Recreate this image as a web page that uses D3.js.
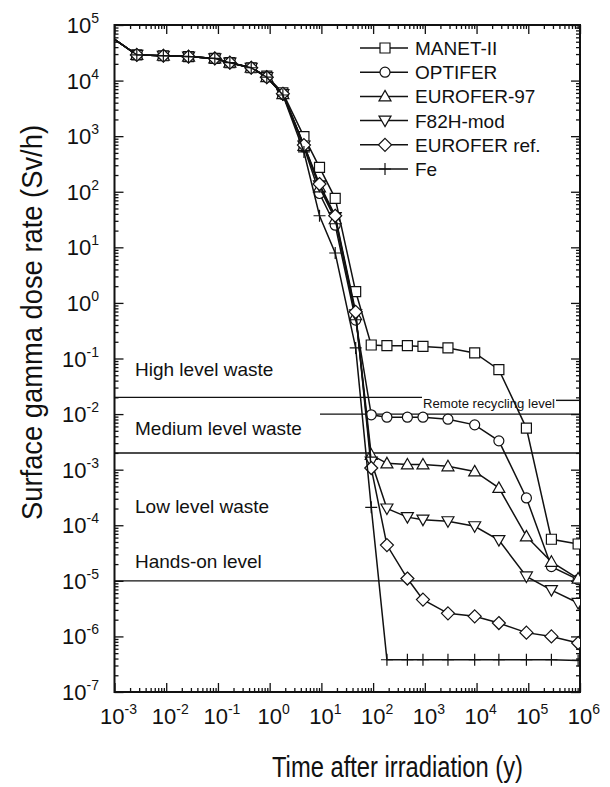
<!DOCTYPE html>
<html>
<head>
<meta charset="utf-8">
<script src="https://cdn.jsdelivr.net/npm/d3@7"></script>
<style>
  body { margin: 0; background: #fff; }
  text { font-family: "Liberation Sans", Arial, Helvetica, sans-serif; fill: #111; }
</style>
</head>
<body>
<svg id="chart" width="610" height="787"></svg>
<script>
// time after irradiation (y)
var times = [0.001, 0.0027, 0.0088, 0.027, 0.087, 0.17, 0.44, 0.88, 1.8, 4.6, 9.2, 18.5, 46, 92, 185, 460, 920, 2800, 9200, 27000, 92000, 280000, 920000];

var manet    = [5.5e4, 2.9e4, 2.8e4, 2.7e4, 2.5e4, 2.1e4, 1.7e4, 1.2e4, 6.0e3, 9.8e2, 2.75e2, 76, 1.6, 0.175, 0.17, 0.17, 0.165, 0.155, 0.126, 0.063, 5.6e-3, 5.6e-5, 4.6e-5];
var optifer  = [5.5e4, 2.9e4, 2.8e4, 2.7e4, 2.5e4, 2.1e4, 1.7e4, 1.15e4, 5.6e3, 6.4e2, 93, 25, 0.49, 9.7e-3, 8.8e-3, 8.8e-3, 8.8e-3, 8.1e-3, 6.4e-3, 3.3e-3, 3.1e-4, 1.8e-5, 1.05e-5];
var eurofer97 = [5.5e4, 2.9e4, 2.8e4, 2.7e4, 2.5e4, 2.1e4, 1.7e4, 1.15e4, 5.7e3, 6.7e2, 1.2e2, 32, 0.6, 1.85e-3, 1.3e-3, 1.24e-3, 1.24e-3, 1.15e-3, 9.3e-4, 4.7e-4, 6.3e-5, 2.2e-5, 1.1e-5];
var f82h     = [5.5e4, 2.9e4, 2.8e4, 2.7e4, 2.5e4, 2.1e4, 1.7e4, 1.15e4, 5.7e3, 6.8e2, 1.3e2, 35, 0.62, 1.4e-3, 2.0e-4, 1.4e-4, 1.26e-4, 1.18e-4, 9.6e-5, 5.4e-5, 1.2e-5, 6.8e-6, 4.0e-6];
var euroRef  = [5.5e4, 2.9e4, 2.8e4, 2.7e4, 2.5e4, 2.1e4, 1.7e4, 1.15e4, 5.8e3, 6.9e2, 1.38e2, 37, 0.69, 1.07e-3, 4.4e-5, 1.1e-5, 4.6e-6, 2.6e-6, 2.3e-6, 1.74e-6, 1.17e-6, 1.0e-6, 7.6e-7];
var fe       = [5.5e4, 2.9e4, 2.8e4, 2.7e4, 2.5e4, 2.1e4, 1.7e4, 1.15e4, 5.5e3, 5.2e2, 37, 7.9, 0.155, 2.1e-4, 3.8e-7, 3.8e-7, 3.8e-7, 3.8e-7, 3.8e-7, 3.8e-7, 3.8e-7, 3.8e-7, 3.7e-7];

var seriesNames = ["MANET-II", "OPTIFER", "EUROFER-97", "F82H-mod", "EUROFER ref.", "Fe"];
var seriesValues = [manet, optifer, eurofer97, f82h, euroRef, fe];
var seriesMarks = ["square", "circle", "triangle", "invtriangle", "diamond", "plus"];

var xExps = [-3, -2, -1, 0, 1, 2, 3, 4, 5, 6];
var yExps = [-7, -6, -5, -4, -3, -2, -1, 0, 1, 2, 3, 4, 5];

// horizontal limit lines
var levelLabels = ["High level waste", "Medium level waste", "Low level waste", "Hands-on level"];
var levelLabelValues = [6.2e-2, 5.3e-3, 2.1e-4, 2.2e-5];
var levelLines = [2e-2, 2e-3, 1e-5];
var remoteLevel = 1e-2;

(function() {
  var svg = d3.select("#chart");
  var pLeft = 114.5, pRight = 580, pTop = 25, pBottom = 692;

  var x = d3.scaleLog().domain([1e-3, 1e6]).range([pLeft, pRight]);
  var y = d3.scaleLog().domain([1e-7, 1e5]).range([pBottom, pTop]);

  function minors(lo, hi) {
    var out = [];
    for (var e = lo; e < hi; e++) for (var k = 2; k <= 9; k++) out.push(k * Math.pow(10, e));
    return out;
  }
  var xMaj = xExps.map(function(e) { return Math.pow(10, e); });
  var yMaj = yExps.map(function(e) { return Math.pow(10, e); });
  var xMin = minors(-3, 6), yMin = minors(-7, 5);

  svg.append("rect").attr("width", 610).attr("height", 787).attr("fill", "#fff");

  svg.append("defs").append("clipPath").attr("id", "clip")
    .append("rect").attr("x", pLeft).attr("y", pTop).attr("width", pRight - pLeft).attr("height", pBottom - pTop);

  // ticks, all pointing inward
  function tickAxis(axisFn, scale, vals, size, tr) {
    var g = svg.append("g").attr("transform", tr)
      .call(axisFn(scale).tickValues(vals).tickSize(size).tickFormat(""));
    g.select(".domain").remove();
    g.selectAll(".tick line").attr("stroke", "#111").attr("stroke-width", 1.3);
  }
  tickAxis(d3.axisBottom, x, xMaj, -9, "translate(0," + pBottom + ")");
  tickAxis(d3.axisBottom, x, xMin, -4, "translate(0," + pBottom + ")");
  tickAxis(d3.axisTop, x, xMaj, -9, "translate(0," + pTop + ")");
  tickAxis(d3.axisTop, x, xMin, -4, "translate(0," + pTop + ")");
  tickAxis(d3.axisLeft, y, yMaj, -9, "translate(" + pLeft + ",0)");
  tickAxis(d3.axisLeft, y, yMin, -4, "translate(" + pLeft + ",0)");
  tickAxis(d3.axisRight, y, yMaj, -9, "translate(" + pRight + ",0)");
  tickAxis(d3.axisRight, y, yMin, -4, "translate(" + pRight + ",0)");

  svg.append("rect").attr("x", pLeft).attr("y", pTop).attr("width", pRight - pLeft).attr("height", pBottom - pTop)
    .attr("fill", "none").attr("stroke", "#111").attr("stroke-width", 2);

  // tick labels
  function powLabel(sel) {
    sel.append("tspan").attr("font-size", 22).text("10");
    sel.append("tspan").attr("font-size", 14).attr("dy", -10).text(function(e) { return e; });
  }
  svg.append("g").selectAll("text").data(xExps).enter().append("text")
    .attr("x", function(e) { return x(Math.pow(10, e)) + 4; })
    .attr("y", 724).attr("text-anchor", "middle").call(powLabel);
  svg.append("g").selectAll("text").data(yExps).enter().append("text")
    .attr("x", 99).attr("y", function(e) { return y(Math.pow(10, e)) + 8; })
    .attr("text-anchor", "end").call(powLabel);

  // axis titles
  svg.append("text").attr("x", 272).attr("y", 777).attr("font-size", 29)
    .attr("textLength", 251).attr("lengthAdjust", "spacingAndGlyphs")
    .text("Time after irradiation (y)");
  svg.append("text").attr("transform", "translate(42,520) rotate(-90)").attr("font-size", 30)
    .attr("textLength", 395).attr("lengthAdjust", "spacingAndGlyphs")
    .text("Surface gamma dose rate (Sv/h)");

  // level lines
  var lv = svg.append("g").attr("stroke", "#111").attr("stroke-width", 1.4);
  levelLines.forEach(function(v) {
    if (v === 2e-2) {
      lv.append("line").attr("x1", pLeft).attr("x2", 422).attr("y1", y(v)).attr("y2", y(v));
      lv.append("line").attr("x1", 556).attr("x2", pRight).attr("y1", y(v) + 3).attr("y2", y(v) + 3);
    } else {
      lv.append("line").attr("x1", pLeft).attr("x2", pRight).attr("y1", y(v)).attr("y2", y(v));
    }
  });
  lv.append("line").attr("x1", 320).attr("x2", pRight).attr("y1", y(remoteLevel)).attr("y2", y(remoteLevel));
  svg.append("text").attr("x", 423).attr("y", y(2e-2) + 11).attr("font-size", 12.5)
    .attr("textLength", 132).attr("lengthAdjust", "spacingAndGlyphs").text("Remote recycling level");

  svg.append("g").selectAll("text").data(levelLabels).enter().append("text")
    .attr("x", 135).attr("y", function(d, i) { return y(levelLabelValues[i]) + 6; })
    .attr("font-size", 19).text(function(d) { return d; });

  // markers
  function markPath(kind) {
    switch (kind) {
      case "square": return "M-5,-5H5V5H-5Z";
      case "circle": return "M5,0A5,5 0 1,1 -5,0A5,5 0 1,1 5,0Z";
      case "triangle": return "M0,-6L6,4.5H-6Z";
      case "invtriangle": return "M0,6L6,-4.5H-6Z";
      case "diamond": return "M0,-6.5L6.5,0L0,6.5L-6.5,0Z";
      case "plus": return "M-6,0H6M0,-6V6";
    }
  }

  var plot = svg.append("g").attr("clip-path", "url(#clip)");
  var line = d3.line().x(function(d) { return x(d[0]); }).y(function(d) { return y(d[1]); });

  seriesValues.forEach(function(vals, si) {
    var pts = times.map(function(t, i) { return [t, vals[i]]; });
    plot.append("path").datum(pts).attr("d", line)
      .attr("fill", "none").attr("stroke", "#111").attr("stroke-width", 1.5);
    plot.append("g").selectAll("path").data(pts.slice(1)).enter().append("path")
      .attr("transform", function(d) { return "translate(" + x(d[0]) + "," + y(d[1]) + ")"; })
      .attr("d", markPath(seriesMarks[si]))
      .attr("fill", seriesMarks[si] === "plus" ? "none" : "#fff")
      .attr("stroke", "#111").attr("stroke-width", 1.2);
  });

  // legend
  var leg = svg.append("g").selectAll("g").data(seriesNames).enter().append("g")
    .attr("transform", function(d, i) { return "translate(0," + (48 + i * 24.2) + ")"; });
  leg.append("line").attr("x1", 360).attr("x2", 408).attr("stroke", "#111").attr("stroke-width", 1.5);
  leg.append("path").attr("transform", "translate(385,0)")
    .attr("d", function(d, i) { return markPath(seriesMarks[i]); })
    .attr("fill", function(d, i) { return seriesMarks[i] === "plus" ? "none" : "#fff"; })
    .attr("stroke", "#111").attr("stroke-width", 1.2);
  leg.append("text").attr("x", 415).attr("y", 7).attr("font-size", 19).text(function(d) { return d; });
})();
</script>
</body>
</html>
